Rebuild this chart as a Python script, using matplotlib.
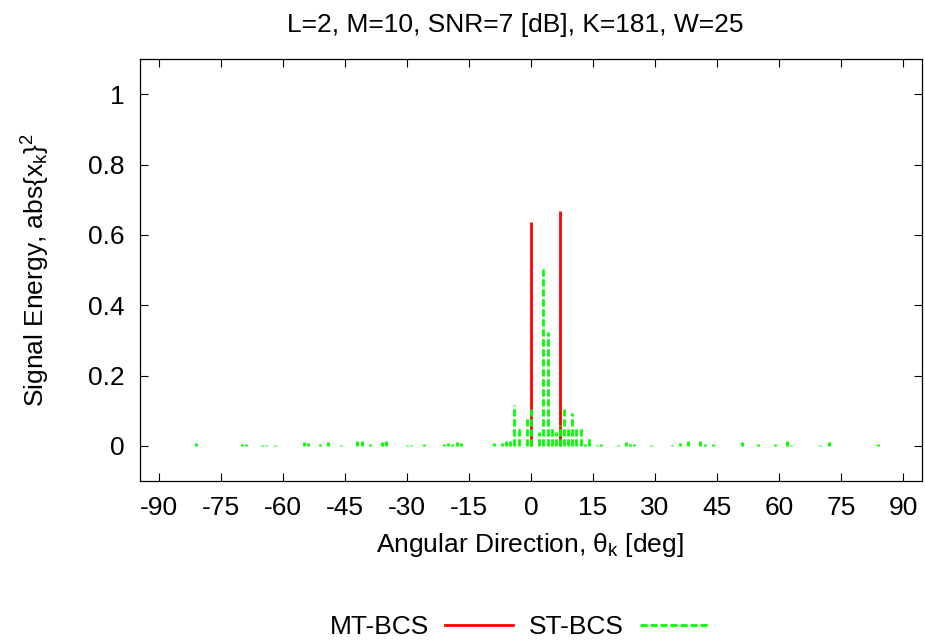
import matplotlib
matplotlib.use("Agg")
import matplotlib.pyplot as plt
from matplotlib.lines import Line2D

plt.rcParams['font.family'] = ['Liberation Sans', 'DejaVu Sans']
plt.rcParams['mathtext.fontset'] = 'custom'
plt.rcParams['mathtext.rm'] = 'Liberation Sans'
plt.rcParams['mathtext.it'] = 'Liberation Sans'
plt.rcParams['mathtext.bf'] = 'Liberation Sans:bold'

title = "L=2, M=10, SNR=7 [dB], K=181, W=25"
xlabel = r"Angular Direction, $\theta_{k}$ [deg]"
ylabel = r"Signal Energy, abs{x$_{k}$}$^{2}$"
series_names = ["MT-BCS", "ST-BCS"]

xticks = [-90, -75, -60, -45, -30, -15, 0, 15, 30, 45, 60, 75, 90]
yticks = [0, 0.2, 0.4, 0.6, 0.8, 1]
ytick_labels = ["0", "0.2", "0.4", "0.6", "0.8", "1"]

# MT-BCS (red impulses)
mt_angles = [0, 7]
mt_values = [0.637, 0.669]

# ST-BCS (green dashed impulses)
st_angles = [-81, -70, -69, -65, -64, -62, -55, -54, -51, -49, -46, -42, -41, -39,
             -36, -35, -30, -29, -26, -21, -20, -19, -18, -17,
             -9, -7, -6, -5, -4, -3, -1, 0, 2, 3, 4, 5, 6, 7, 8, 9, 10, 11, 12, 13, 14,
             16, 17, 21, 23, 24, 25, 29, 34, 36, 38, 41, 42, 44, 51, 55, 59, 62, 63,
             70, 72, 84]
st_values = [0.008, 0.004, 0.004, 0.002, 0.002, 0.002, 0.010, 0.008, 0.006, 0.011, 0.002, 0.013, 0.015, 0.006,
             0.011, 0.015, 0.003, 0.003, 0.005, 0.004, 0.009, 0.006, 0.011, 0.009,
             0.007, 0.007, 0.014, 0.015, 0.115, 0.052, 0.085, 0.105, 0.038, 0.503, 0.323, 0.054, 0.038, 0.060,
             0.106, 0.048, 0.092, 0.050, 0.054, 0.004, 0.025,
             0.002, 0.004, 0.002, 0.010, 0.006, 0.005, 0.001, 0.002, 0.008, 0.013, 0.015, 0.006, 0.005,
             0.012, 0.006, 0.006, 0.015, 0.003, 0.002, 0.010, 0.006]

red = '#ff0000'
green = '#00ff00'
fs = 19

fig = plt.figure(figsize=(9.25, 6.44), dpi=100)
ax = fig.add_axes([140/925, 1 - 481/644, (922 - 140)/925, (481 - 59)/644])

ax.vlines(mt_angles, 0, mt_values, colors=red, linewidth=2.0, zorder=2)
ax.vlines(st_angles, 0, st_values, colors=green, linewidth=2.0,
          linestyles=[(0, (2.6, 1.0))], zorder=3)

ax.set_xlim(-94.6, 94.6)
ax.set_ylim(-0.1, 1.1)
ax.set_xticks(xticks)
ax.set_xticklabels([str(t) for t in xticks])
ax.set_yticks(yticks)
ax.set_yticklabels(ytick_labels)
ax.tick_params(direction='in', length=6, width=0.8, labelsize=fs, pad=11,
               top=True, right=True)
for s in ax.spines.values():
    s.set_linewidth(0.9)

fig.text(515/925, 1 - 32/644, title, ha='center', va='baseline', fontsize=fs)
fig.text(530/925, 1 - 545/644, xlabel, ha='center', va='center', fontsize=fs)
fig.text(36/925, 1 - 270/644, ylabel, ha='center', va='center', rotation=90, fontsize=fs)

handles = [Line2D([], [], color=red, linewidth=2.0),
           Line2D([], [], color=green, linewidth=2.0, linestyle=(0, (2.6, 1.0)))]
fig.legend(handles, series_names, loc='center', bbox_to_anchor=(519/925, 1 - 627/644),
           ncol=2, frameon=False, markerfirst=False, fontsize=fs,
           handlelength=2.6, handletextpad=0.6, columnspacing=0.6)

fig.savefig('out.png', dpi=100)
